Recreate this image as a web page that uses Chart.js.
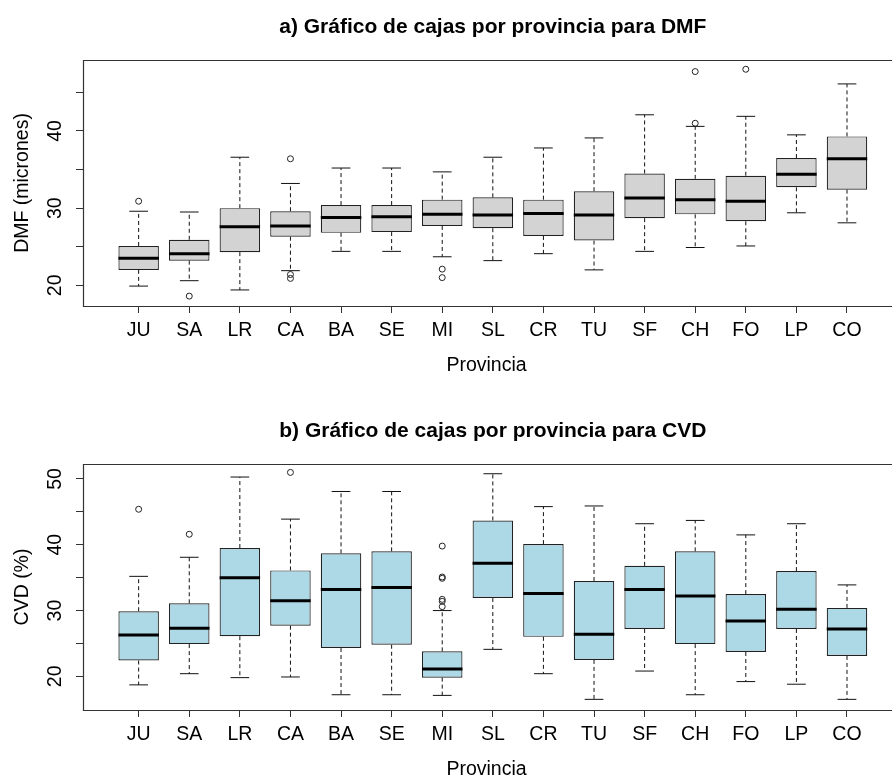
<!DOCTYPE html>
<html><head><meta charset="utf-8">
<script src="https://cdn.jsdelivr.net/npm/chart.js@4/dist/chart.umd.min.js"></script>
<style>
html,body{margin:0;padding:0;background:#fff;overflow:hidden;width:895px;height:776px;}
.wrap{position:absolute;left:0;width:895px;height:404px;}
#wa{top:0}
#wb{top:404px}
canvas{display:block}
</style></head><body>
<div class="wrap" id="wa"><canvas id="ca" width="895" height="404"></canvas></div>
<div class="wrap" id="wb"><canvas id="cb" width="895" height="404"></canvas></div>
<script>
const categories = ['JU','SA','LR','CA','BA','SE','MI','SL','CR','TU','SF','CH','FO','LP','CO'];

// Panel a: DMF (micrones)
const dmfMin    = [19.9, 20.6, 19.4, 21.9, 24.4, 24.4, 23.7, 23.2, 24.1, 22.0, 24.4, 24.9, 25.1, 29.4, 28.1];
const dmfQ1     = [22.0, 23.2, 24.3, 26.3, 26.8, 26.9, 27.7, 27.4, 26.4, 25.8, 28.7, 29.2, 28.3, 32.7, 32.4];
const dmfMedian = [23.5, 24.1, 27.6, 27.7, 28.8, 28.9, 29.2, 29.1, 29.3, 29.1, 31.3, 31.1, 30.9, 34.4, 36.4];
const dmfQ3     = [25.1, 25.9, 30.0, 29.6, 30.4, 30.4, 31.1, 31.4, 31.1, 32.2, 34.5, 33.8, 34.2, 36.5, 39.3];
const dmfMax    = [29.6, 29.5, 36.6, 33.2, 35.2, 35.2, 34.7, 36.6, 37.8, 39.1, 42.1, 40.6, 41.9, 39.5, 46.1];
const dmfOutliers = [[30.9],[18.6],[],[36.4,21.4,20.9],[],[],[22.1,21.0],[],[],[],[],[47.7,41.0],[48.0],[],[]];

// Panel b: CVD (%)
const cvdMin    = [18.7, 20.4, 19.8, 19.9, 17.2, 17.2, 17.1, 24.1, 20.4, 16.5, 20.8, 17.2, 19.2, 18.8, 16.5];
const cvdQ1     = [22.4, 24.9, 26.1, 27.7, 24.3, 24.8, 19.8, 31.9, 26.0, 22.5, 27.2, 24.9, 23.7, 27.2, 23.1];
const cvdMedian = [26.3, 27.3, 35.0, 31.5, 33.2, 33.5, 21.1, 37.2, 32.6, 26.4, 33.2, 32.2, 28.4, 30.2, 27.2];
const cvdQ3     = [29.9, 31.1, 39.5, 36.1, 38.7, 39.0, 23.8, 43.7, 40.1, 34.5, 36.8, 39.0, 32.5, 36.0, 30.4];
const cvdMax    = [35.2, 38.1, 50.3, 43.9, 48.1, 48.1, 30.0, 50.8, 45.8, 45.9, 43.2, 43.7, 41.5, 43.2, 33.9];
const cvdOutliers = [[45.4],[41.6],[],[51.0],[],[],[39.8,35.1,34.9,31.7,31.4,30.6],[],[],[],[],[],[],[],[]];

const FONT = '"Liberation Sans", Arial, sans-serif';

const boxPlugin = {
  id: 'boxWhisk',
  afterDatasetsDraw(chart, args, o) {
    const {ctx, chartArea: a, scales: {x, y}} = chart;
    const unit = x.getPixelForValue(2) - x.getPixelForValue(1);
    ctx.save();
    ctx.beginPath(); ctx.rect(a.left, a.top, a.right - a.left, a.bottom - a.top); ctx.clip();
    ctx.strokeStyle = '#111';
    o.lo.forEach((lo, i) => {
      const xc = x.getPixelForValue(i + 1);
      const yLo = y.getPixelForValue(lo), yHi = y.getPixelForValue(o.hi[i]);
      const yQ1 = y.getPixelForValue(o.q1[i]), yQ3 = y.getPixelForValue(o.q3[i]);
      const yMed = y.getPixelForValue(o.med[i]);
      ctx.lineWidth = 1;
      ctx.setLineDash([4, 3]);
      ctx.beginPath();
      ctx.moveTo(xc, yQ3); ctx.lineTo(xc, yHi);
      ctx.moveTo(xc, yQ1); ctx.lineTo(xc, yLo);
      ctx.stroke();
      ctx.setLineDash([]);
      const cw = unit * 0.185;
      ctx.beginPath();
      ctx.moveTo(xc - cw, yHi); ctx.lineTo(xc + cw, yHi);
      ctx.moveTo(xc - cw, yLo); ctx.lineTo(xc + cw, yLo);
      ctx.stroke();
      const bw = unit * 0.4;
      ctx.strokeStyle = '#000';
      ctx.lineWidth = 3;
      ctx.beginPath();
      ctx.moveTo(xc - bw, yMed); ctx.lineTo(xc + bw, yMed);
      ctx.stroke();
      ctx.strokeStyle = '#111';
    });
    ctx.restore();
  },
  afterDraw(chart, args, o) {
    const {ctx, chartArea: a, scales: {x, y}} = chart;
    ctx.save();
    // frame (right side falls outside the picture)
    ctx.strokeStyle = '#333';
    ctx.lineWidth = 1.2;
    ctx.beginPath();
    ctx.moveTo(a.right + 2, Math.round(a.top) + 0.5);
    ctx.lineTo(Math.round(a.left) + 0.5, Math.round(a.top) + 0.5);
    ctx.lineTo(Math.round(a.left) + 0.5, Math.round(a.bottom) + 0.5);
    ctx.lineTo(a.right + 2, Math.round(a.bottom) + 0.5);
    ctx.stroke();
    // y tick labels, rotated like R
    ctx.fillStyle = '#000';
    ctx.font = '19.5px ' + FONT;
    ctx.textAlign = 'center';
    ctx.textBaseline = 'middle';
    y.ticks.forEach(t => {
      if (t.value % 10 === 0) {
        ctx.save();
        ctx.translate(55.5, y.getPixelForValue(t.value));
        ctx.rotate(-Math.PI / 2);
        ctx.fillText(String(t.value), 0, 0);
        ctx.restore();
      }
    });
    // main title centred on plot region
    ctx.font = 'bold 21px ' + FONT;
    ctx.fillText(o.title, x.getPixelForValue(8), 27.5);
    ctx.restore();
  }
};

function makeChart(id, title, yTitle, lo, q1, med, q3, hi, outliers, fill, yMin, yMax) {
  const boxes = categories.map((c, i) => ({x: i + 1, y: [q1[i], q3[i]]}));
  const outPts = [];
  outliers.forEach((arr, i) => arr.forEach(v => outPts.push({x: i + 1, y: v})));
  return new Chart(document.getElementById(id), {
    type: 'bar',
    data: {
      datasets: [
        {
          type: 'bar', data: boxes, backgroundColor: fill, borderColor: '#222',
          borderWidth: 1.2, borderSkipped: false, barPercentage: 0.8, categoryPercentage: 1
        },
        {
          type: 'scatter', data: outPts, pointStyle: 'circle', pointRadius: 3,
          pointBorderWidth: 1, borderColor: '#222', backgroundColor: 'rgba(0,0,0,0)',
          pointBackgroundColor: 'rgba(0,0,0,0)', pointBorderColor: '#222', showLine: false
        }
      ]
    },
    options: {
      responsive: false, animation: false, devicePixelRatio: 1,
      layout: {padding: {top: 60, left: 0, right: 0, bottom: 0}},
      plugins: {
        legend: {display: false}, tooltip: {enabled: false},
        boxWhisk: {lo: lo, q1: q1, med: med, q3: q3, hi: hi, title: title}
      },
      scales: {
        x: {
          type: 'linear', min: -0.1, max: 15.85, offset: false,
          afterBuildTicks: s => { s.ticks = categories.map((c, i) => ({value: i + 1})); },
          afterFit: s => { s.height = 98; },
          ticks: {
            autoSkip: false, maxRotation: 0, minRotation: 0, padding: 6,
            color: '#000', font: {size: 19.5, family: FONT},
            callback: v => categories[v - 1]
          },
          grid: {offset: false, drawOnChartArea: false, drawTicks: true, tickLength: 7, tickColor: '#333', tickWidth: 1},
          border: {display: false},
          title: {display: true, text: 'Provincia', color: '#000', font: {size: 19.5, family: FONT},
                  padding: {top: 0, bottom: 26.5}}
        },
        y: {
          type: 'linear', min: yMin, max: yMax,
          afterBuildTicks: s => { s.ticks = s.ticks.filter(t => Math.abs(t.value % 5) < 1e-9); },
          afterFit: s => { s.width = 83; },
          ticks: {stepSize: 5, display: false},
          grid: {drawOnChartArea: false, drawTicks: true, tickLength: 7, tickColor: '#333', tickWidth: 1},
          border: {display: false},
          title: {display: true, text: yTitle, color: '#000', font: {size: 19.5, family: FONT},
                  padding: {top: 10.5, bottom: 0}}
        }
      }
    },
    plugins: [boxPlugin]
  });
}

makeChart('ca', 'a) Gráfico de cajas por provincia para DMF', 'DMF (micrones)',
  dmfMin, dmfQ1, dmfMedian, dmfQ3, dmfMax, dmfOutliers, '#D3D3D3', 17.32, 49.2);
makeChart('cb', 'b) Gráfico de cajas por provincia para CVD', 'CVD (%)',
  cvdMin, cvdQ1, cvdMedian, cvdQ3, cvdMax, cvdOutliers, '#ADD8E6', 14.88, 52.28);
</script></body></html>
